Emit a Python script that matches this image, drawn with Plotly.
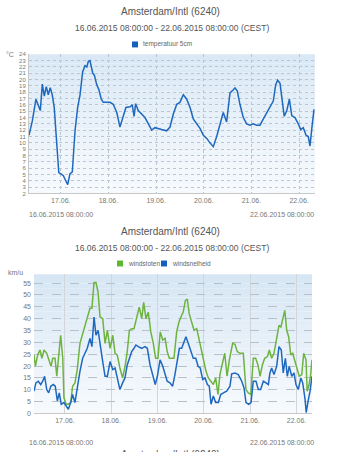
import pandas as pd
import plotly.graph_objects as go

# ---------------- data ----------------
start = "2015-06-16 08:00"
end = "2015-06-22 08:00"
day_ticks = ["2015-06-17", "2015-06-18", "2015-06-19", "2015-06-20", "2015-06-21", "2015-06-22"]
day_labels = ["17.06.", "18.06.", "19.06.", "20.06.", "21.06.", "22.06."]

# temperature 5cm: hours after start, degC
temp_h = [0, 1.7, 3.5, 5.7, 6.7, 7.7, 8.7, 9.7, 10.7, 11.7, 12.7, 13.9, 15.0, 16.1, 17.3, 18.5,
          19.5, 20.6, 21.8, 23.2, 24.5, 25.7, 27.0, 28.2, 29.1, 29.9, 30.7, 32.1, 32.9, 34.1,
          35.2, 36.4, 37.4, 39.1, 40.8, 42.4, 44.2, 45.8, 47.2, 48.8, 50.9, 52.0, 52.9, 53.7,
          55.0, 56.7, 58.4, 60.1, 61.8, 63.4, 65.1, 66.8, 69.3, 71.0, 72.7, 74.4, 76.0, 77.7,
          79.4, 81.1, 82.7, 84.4, 86.1, 87.8, 89.5, 91.1, 92.8, 94.5, 96.2, 97.8, 99.5, 101.2,
          102.9, 103.7, 104.9, 106.2, 107.9, 109.6, 111.3, 112.9, 114.6, 116.3, 118.0, 119.7,
          121.3, 123.0, 124.2, 125.2, 126.4, 127.5, 128.5, 129.8, 131.1, 132.3, 133.9, 135.6,
          136.8, 138.1, 139.5, 140.6, 141.5, 142.3, 143.5]
temp_v = [11.2, 13.5, 16.9, 15.1, 19.3, 17.4, 18.9, 17.6, 18.7, 17.6, 15.6, 10.5, 5.3, 5.1, 4.8, 4.0,
          3.4, 5.1, 5.4, 12.0, 15.6, 17.6, 21.2, 22.2, 22.0, 22.9, 23.0, 21.0, 20.7, 19.2,
          18.4, 16.9, 16.4, 16.4, 16.4, 16.1, 14.8, 12.5, 14.0, 15.6, 15.7, 16.0, 14.2, 16.2,
          15.1, 14.6, 14.0, 13.0, 12.0, 12.4, 12.3, 12.1, 11.9, 12.5, 14.6, 16.1, 16.4, 17.6,
          16.9, 15.6, 13.8, 13.0, 12.3, 11.2, 10.7, 10.0, 9.4, 11.0, 12.8, 14.8, 13.3, 17.9,
          18.4, 18.7, 18.2, 16.1, 14.0, 13.0, 12.8, 13.0, 12.8, 12.8, 13.8, 14.8,
          15.6, 16.6, 19.2, 19.9, 19.4, 16.6, 14.2, 15.1, 16.9, 14.3, 14.0, 13.0,
          12.1, 12.4, 11.2, 11.0, 9.5, 12.0, 15.3]

# windstoten (gusts), km/u
gust_h = [0, 0.7, 1.9, 3.1, 4.1, 5.2, 6.6, 7.8, 8.8, 9.7, 10.9, 11.8, 12.8, 13.8, 14.9, 15.5,
          16.6, 17.8, 19.0, 20.0, 21.2, 22.4, 23.8, 25.2, 26.4, 27.6, 29.0, 30.0, 31.1, 32.1,
          33.2, 34.2, 35.6, 36.8, 38.0, 39.4, 40.8, 42.0, 43.1, 44.5, 45.9, 47.3, 48.3, 49.4,
          50.6, 51.8, 53.2, 54.5, 55.8, 56.8, 58.0, 59.2, 60.5, 61.8, 63.0, 64.2, 65.4, 66.7,
          67.9, 69.0, 70.1, 71.3, 72.5, 73.9, 75.1, 76.1, 77.3, 78.4, 79.4, 80.4, 81.7, 82.9,
          84.3, 85.5, 86.7, 87.7, 89.1, 90.3, 91.7, 92.9, 94.1, 95.3, 96.3, 97.5, 98.8, 100.0,
          101.2, 102.9, 104.1, 105.3, 106.7, 108.4, 109.8, 111.0, 112.3, 113.6, 114.8, 116.0,
          117.1, 118.3, 119.5, 120.9, 121.9, 123.1, 124.3, 125.7, 126.9, 127.9, 129.1, 129.9,
          130.9, 131.9, 133.0, 134.0, 135.2, 136.4, 137.4, 138.7, 139.7, 140.9, 141.5, 142.5,
          143.3, 144.0]
gust_v = [24.7, 19.9, 24.7, 26.8, 23.3, 26.8, 25.4, 22.6, 19.9, 23.3, 23.3, 15.7, 24.7, 33.0, 23.3, 6.7,
          3.9, 3.9, 4.6, 11.5, 12.9, 18.5, 29.6, 33.8, 37.2, 40.7, 44.4, 44.4, 55.3, 55.3,
          51.1, 40.7, 40.0, 29.6, 35.1, 27.5, 33.0, 25.4, 24.7, 19.2, 15.0, 20.5, 26.1, 35.1,
          35.8, 35.8, 40.0, 44.9, 40.0, 46.9, 40.0, 42.8, 34.4, 29.6, 23.3, 23.3, 34.4, 31.0,
          31.7, 26.1, 23.3, 23.3, 23.3, 34.4, 38.6, 40.7, 42.8, 47.6, 48.3, 42.1, 38.6, 35.1,
          35.8, 31.0, 26.8, 23.3, 17.8, 15.0, 13.6, 12.2, 15.0, 8.0, 16.4, 20.5, 25.4, 15.7,
          22.6, 29.6, 29.2, 26.1, 25.4, 25.4, 10.1, 8.7, 8.0, 23.3, 23.3, 20.5,
          15.7, 20.5, 23.3, 24.0, 26.8, 23.3, 25.4, 31.7, 37.2, 36.5, 40.0, 43.5,
          35.1, 32.4, 24.7, 25.4, 21.9, 17.8, 15.7, 16.4, 25.4, 22.6, 9.4, 12.2,
          16.4, 22.6]

# windsnelheid (speed), km/u
speed_h = [0, 1.0, 2.2, 3.5, 4.5, 5.5, 6.6, 7.6, 8.7, 10.0, 11.0, 12.1, 13.1, 14.1, 15.5, 16.6,
           17.8, 19.0, 20.0, 21.2, 22.4, 23.8, 25.2, 26.4, 27.6, 29.0, 30.0, 31.1, 32.1, 33.2,
           34.2, 35.6, 36.8, 38.0, 39.4, 40.8, 42.0, 43.1, 44.5, 45.9, 47.1, 48.3, 49.4, 50.6,
           51.8, 52.8, 54.0, 55.8, 57.5, 58.7, 60.1, 61.5, 62.8, 63.9, 65.3, 66.7, 67.9, 69.0,
           70.4, 71.8, 73.0, 74.2, 75.3, 76.5, 77.7, 78.7, 79.9, 81.2, 82.5, 83.8, 85.0, 86.1,
           87.4, 88.6, 89.8, 90.8, 91.7, 92.9, 94.1, 95.5, 96.7, 98.1, 99.8, 101.5, 102.4, 104.1,
           105.8, 107.6, 108.8, 109.8, 111.2, 112.4, 113.6, 115.0, 116.2, 117.4, 118.8, 120.2,
           121.4, 122.2, 123.1, 124.3, 125.7, 126.9, 128.1, 129.1, 130.2, 131.2, 132.2, 133.5,
           134.7, 135.7, 136.9, 138.2, 139.2, 140.4, 141.0, 142.0, 143.0, 144.0]
speed_v = [9.4, 12.9, 13.6, 12.2, 13.6, 15.7, 10.1, 8.7, 11.5, 12.2, 11.5, 5.3, 8.7, 3.9, 4.6, 3.2,
           1.8, 4.6, 8.0, 4.6, 11.5, 17.8, 23.3, 25.4, 27.5, 31.7, 28.2, 40.7, 33.0, 35.1,
           28.9, 21.9, 15.7, 15.7, 21.9, 18.5, 19.2, 15.0, 10.1, 12.9, 15.0, 20.5, 23.3, 26.1,
           27.5, 28.9, 28.2, 27.5, 28.2, 27.5, 20.5, 16.4, 12.2, 15.7, 22.6, 19.9, 17.1, 13.6,
           12.9, 11.5, 16.4, 23.3, 27.5, 27.5, 30.3, 32.4, 29.6, 26.8, 23.3, 23.3, 19.9, 19.2,
           14.3, 15.0, 12.2, 11.5, 3.9, 7.4, 4.6, 4.6, 8.0, 8.7, 9.4, 11.5, 16.7, 17.1,
           16.4, 13.6, 10.8, 4.6, 3.9, 4.6, 13.6, 13.6, 10.1, 10.1, 13.6, 12.9,
           12.2, 17.1, 19.2, 16.4, 19.9, 28.2, 26.8, 17.1, 23.3, 15.7, 19.9, 15.7,
           17.1, 12.2, 10.1, 15.0, 12.9, 6.0, 0.4, 5.3, 9.4, 15.7]

temp_ticks = list(range(2, 25))
wind_ticks = list(range(0, 60, 5))

title = "Amsterdam/Intl (6240)"
subtitle = "16.06.2015 08:00:00 - 22.06.2015 08:00:00 (CEST)"
start_label = "16.06.2015 08:00:00"
end_label = "22.06.2015 08:00:00"

# ---------------- figure ----------------
W, H = 353, 452
base = pd.Timestamp(start)
def to_t(hours):
    return [base + pd.Timedelta(hours=h) for h in hours]

def py(px):
    return 1 - px / H

def pxx(px):
    return px / W

FONT = "Liberation Sans, Arial, sans-serif"
BLUE = "#1f68bf"
GREEN = "#6db33f"
TXT = "#555555"

fig = go.Figure()
fig.add_trace(go.Scatter(x=to_t(temp_h), y=temp_v, mode="lines", line=dict(color=BLUE, width=1.5),
                         xaxis="x", yaxis="y", name="temperatuur 5cm", showlegend=False))
fig.add_trace(go.Scatter(x=to_t(gust_h), y=gust_v, mode="lines", line=dict(color=GREEN, width=1.5),
                         xaxis="x2", yaxis="y2", name="windstoten", showlegend=False))
fig.add_trace(go.Scatter(x=to_t(speed_h), y=speed_v, mode="lines", line=dict(color=BLUE, width=1.5),
                         xaxis="x2", yaxis="y2", name="windsnelheid", showlegend=False))

xcommon = dict(type="date", range=[start, end], tickvals=day_ticks, ticktext=day_labels,
               tickfont=dict(size=7, color="#777"), ticks="", showline=True, linecolor="#c8c8c8",
               linewidth=1, zeroline=False)
fig.update_layout(
    width=W, height=H, margin=dict(l=0, r=0, t=0, b=0),
    paper_bgcolor="white", plot_bgcolor="rgba(0,0,0,0)",
    font=dict(family=FONT, color=TXT), showlegend=False,
    xaxis=dict(domain=[pxx(29), pxx(315)], anchor="y", showgrid=True, gridcolor="#b9c6d3",
               griddash="dot", gridwidth=1, **xcommon),
    yaxis=dict(domain=[py(193), py(52)], anchor="x", range=[2, 24], tickvals=temp_ticks,
               tickfont=dict(size=6, color="#777"), showgrid=True, gridcolor="#b9c6d3",
               griddash="dot", gridwidth=1, showline=True, linecolor="#c8c8c8", ticks="",
               zeroline=False, ticklabelstandoff=1),
    xaxis2=dict(domain=[pxx(34), pxx(312)], anchor="y2", showgrid=True, gridcolor="#d2d6da",
                gridwidth=1, **xcommon),
    yaxis2=dict(domain=[py(416), py(275)], anchor="x2", range=[0, 58.7], tickvals=wind_ticks,
                tickfont=dict(size=7, color="#777"), showgrid=True, gridcolor="#b8c0c8",
                griddash="dash", gridwidth=1, showline=False, ticks="", zeroline=False,
                ticklabelstandoff=2),
)

# gradient plot backgrounds
def gradient(xref, yref, top, bot, n=30):
    for i in range(n):
        t = (i + 0.5) / n
        c = tuple(round(bot[k] + (top[k] - bot[k]) * t) for k in range(3))
        fig.add_shape(type="rect", xref=xref, yref=yref, x0=0, x1=1, y0=i / n, y1=(i + 1) / n,
                      fillcolor="rgb(%d,%d,%d)" % c, line=dict(width=0), layer="below")

gradient("x domain", "y domain", (217, 232, 245), (247, 250, 253))
gradient("x2 domain", "y2 domain", (214, 230, 244), (247, 250, 253))

ann = []
def text(t, x, y, size, xanchor="center", yanchor="middle", color=TXT):
    ann.append(dict(text=t, x=pxx(x), y=py(y), xref="paper", yref="paper", showarrow=False,
                    xanchor=xanchor, yanchor=yanchor, font=dict(size=size, color=color)))

def legend_item(label, color, sx, y):
    fig.add_shape(type="rect", xref="paper", yref="paper", x0=pxx(sx), x1=pxx(sx + 6),
                  y0=py(y + 3), y1=py(y - 3), fillcolor=color, line=dict(width=0))
    text(label, sx + 9, y, 6.5, xanchor="left", color="#666")

text(title, 170, 9, 10)
text(subtitle, 172, 25, 8.5)
legend_item("temperatuur 5cm", "#1560bd", 132, 42)
text("°C", 4, 52, 7, xanchor="left", color="#777")
text(start_label, 27, 214, 7, xanchor="left", color="#777")
text(end_label, 316, 214, 7, xanchor="right", color="#777")

text(title, 170, 232, 10)
text(subtitle, 172, 248, 8.5)
legend_item("windstoten", "#5cb82e", 117, 264)
legend_item("windsnelheid", "#1560bd", 161, 264)
text("km/u", 6, 273, 7, xanchor="left", color="#777")
text(start_label, 27, 445, 7, xanchor="left", color="#777")
text(end_label, 316, 445, 7, xanchor="right", color="#777")

text(title, 170, 450, 10, yanchor="top")

fig.update_layout(annotations=ann)
fig.write_html("out.html")
